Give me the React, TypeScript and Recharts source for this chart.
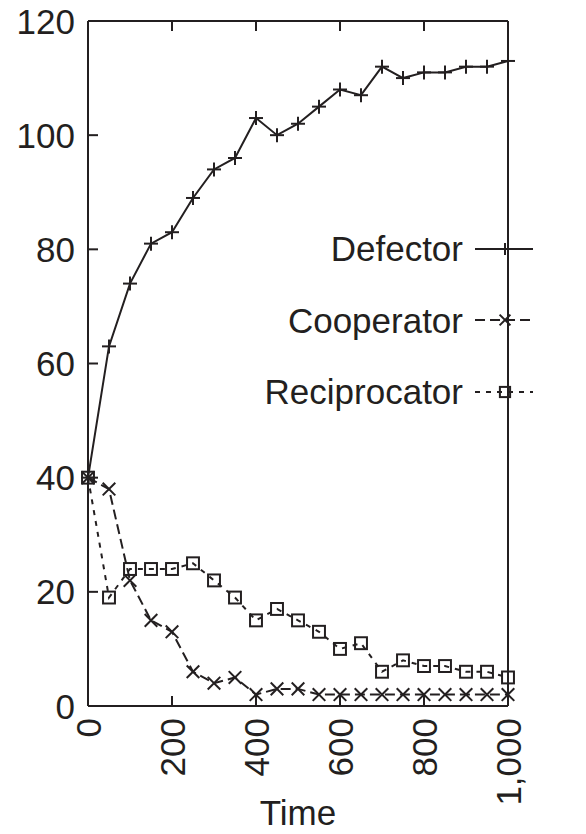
import React from 'react';
import { LineChart, Line, XAxis, YAxis, Legend } from 'recharts';

const times = [0, 50, 100, 150, 200, 250, 300, 350, 400, 450, 500, 550, 600, 650, 700, 750, 800, 850, 900, 950, 1000];
const defector = [40, 63, 74, 81, 83, 89, 94, 96, 103, 100, 102, 105, 108, 107, 112, 110, 111, 111, 112, 112, 113];
const cooperator = [40, 38, 22, 15, 13, 6, 4, 5, 2, 3, 3, 2, 2, 2, 2, 2, 2, 2, 2, 2, 2];
const reciprocator = [40, 19, 24, 24, 24, 25, 22, 19, 15, 17, 15, 13, 10, 11, 6, 8, 7, 7, 6, 6, 5];

const xTicks = [0, 200, 400, 600, 800, 1000];
const yTicks = [0, 20, 40, 60, 80, 100, 120];

const INK = '#231f20';
const FONT = '"Liberation Sans", Arial, sans-serif';
const FS = 35;

const data = times.map((t, i) => ({
  time: t,
  defector: defector[i],
  cooperator: cooperator[i],
  reciprocator: reciprocator[i],
}));

type Marker = 'plus' | 'cross' | 'square';

const series: { key: string; name: string; dash?: string; marker: Marker }[] = [
  { key: 'defector', name: 'Defector', marker: 'plus' },
  { key: 'cooperator', name: 'Cooperator', dash: '10 5', marker: 'cross' },
  { key: 'reciprocator', name: 'Reciprocator', dash: '5 6', marker: 'square' },
];

function MarkerShape({ cx, cy, kind, r = 7 }: { cx: number; cy: number; kind: Marker; r?: number }) {
  if (cx == null || cy == null) return null;
  if (kind === 'plus') {
    return (
      <g stroke={INK} strokeWidth={2}>
        <line x1={cx - r} y1={cy} x2={cx + r} y2={cy} />
        <line x1={cx} y1={cy - r} x2={cx} y2={cy + r} />
      </g>
    );
  }
  if (kind === 'cross') {
    const d = r * 0.9;
    return (
      <g stroke={INK} strokeWidth={2}>
        <line x1={cx - d} y1={cy - d} x2={cx + d} y2={cy + d} />
        <line x1={cx - d} y1={cy + d} x2={cx + d} y2={cy - d} />
      </g>
    );
  }
  const s = r * 0.85;
  return <rect x={cx - s} y={cy - s} width={2 * s} height={2 * s} fill="none" stroke={INK} strokeWidth={2} />;
}

const makeDot = (kind: Marker) => (props: any) => (
  <MarkerShape key={`${kind}-${props.index}`} cx={props.cx} cy={props.cy} kind={kind} />
);

// ticks point inward, labels sit outside
const LeftTick = (props: any) => {
  const { x, y, payload } = props;
  const ax = x + 13;
  return (
    <g>
      <line x1={ax} y1={y} x2={ax + 10} y2={y} stroke={INK} strokeWidth={2} />
      <text x={x} y={y} textAnchor="end" dominantBaseline="central" fontSize={FS} fontFamily={FONT} fill={INK}>
        {payload.value}
      </text>
    </g>
  );
};

const BottomTick = (props: any) => {
  const { x, y, payload } = props;
  const ay = y - 12;
  const label = payload.value >= 1000 ? payload.value.toLocaleString('en-US') : String(payload.value);
  return (
    <g>
      <line x1={x} y1={ay} x2={x} y2={ay - 10} stroke={INK} strokeWidth={2} />
      <text
        x={x}
        y={y}
        dy="0.36em"
        textAnchor="end"
        transform={`rotate(-90, ${x}, ${y})`}
        fontSize={FS}
        fontFamily={FONT}
        fill={INK}
      >
        {label}
      </text>
    </g>
  );
};

const TopTick = (props: any) => {
  const { x, y } = props;
  return <line x1={x} y1={y} x2={x} y2={y + 10} stroke={INK} strokeWidth={2} />;
};

const RightTick = (props: any) => {
  const { x, y } = props;
  return <line x1={x} y1={y} x2={x - 10} y2={y} stroke={INK} strokeWidth={2} />;
};

const renderLegend = () => (
  <div style={{ fontFamily: FONT, fontSize: FS, color: INK }}>
    {series.map((s) => (
      <div key={s.key} style={{ height: 71.5, display: 'flex', alignItems: 'center', justifyContent: 'flex-end' }}>
        <span style={{ lineHeight: 1 }}>{s.name}</span>
        <svg width={60} height={20} style={{ marginLeft: 12 }}>
          <line x1={0} y1={10} x2={58} y2={10} stroke={INK} strokeWidth={2} strokeDasharray={s.dash} />
          <MarkerShape cx={30} cy={10} kind={s.marker} r={6} />
        </svg>
      </div>
    ))}
  </div>
);

export default function App() {
  return (
    <div style={{ position: 'absolute', left: 0, top: 0, background: '#fff', fontFamily: FONT }}>
      <LineChart width={586} height={834} data={data} margin={{ top: 20, right: 77, bottom: 0, left: 0 }}>
        <XAxis
          dataKey="time"
          type="number"
          domain={[0, 1000]}
          ticks={xTicks}
          height={128}
          tickSize={0}
          tickMargin={12}
          tickLine={false}
          axisLine={{ stroke: INK, strokeWidth: 2 }}
          tick={<BottomTick />}
          interval={0}
          label={{ value: 'Time', position: 'insideBottom', offset: 9, fontSize: FS, fontFamily: FONT, fill: INK }}
        />
        <XAxis
          xAxisId="top"
          dataKey="time"
          type="number"
          orientation="top"
          domain={[0, 1000]}
          ticks={xTicks}
          height={1}
          tickSize={0}
          tickMargin={0}
          tickLine={false}
          axisLine={{ stroke: INK, strokeWidth: 2 }}
          tick={<TopTick />}
          interval={0}
        />
        <YAxis
          type="number"
          domain={[0, 120]}
          ticks={yTicks}
          width={88}
          tickSize={0}
          tickMargin={13}
          tickLine={false}
          axisLine={{ stroke: INK, strokeWidth: 2 }}
          tick={<LeftTick />}
          interval={0}
        />
        <YAxis
          yAxisId="right"
          orientation="right"
          type="number"
          domain={[0, 120]}
          ticks={yTicks}
          width={1}
          tickSize={0}
          tickMargin={0}
          tickLine={false}
          axisLine={{ stroke: INK, strokeWidth: 2 }}
          tick={<RightTick />}
          interval={0}
        />
        <Legend
          verticalAlign="middle"
          content={renderLegend}
          wrapperStyle={{ left: 0, top: 213, width: 535 }}
        />
        {series.map((s) => (
          <Line
            key={s.key}
            dataKey={s.key}
            name={s.name}
            type="linear"
            stroke={INK}
            strokeWidth={2}
            strokeDasharray={s.dash}
            dot={makeDot(s.marker)}
            activeDot={false}
            isAnimationActive={false}
          />
        ))}
      </LineChart>
    </div>
  );
}
